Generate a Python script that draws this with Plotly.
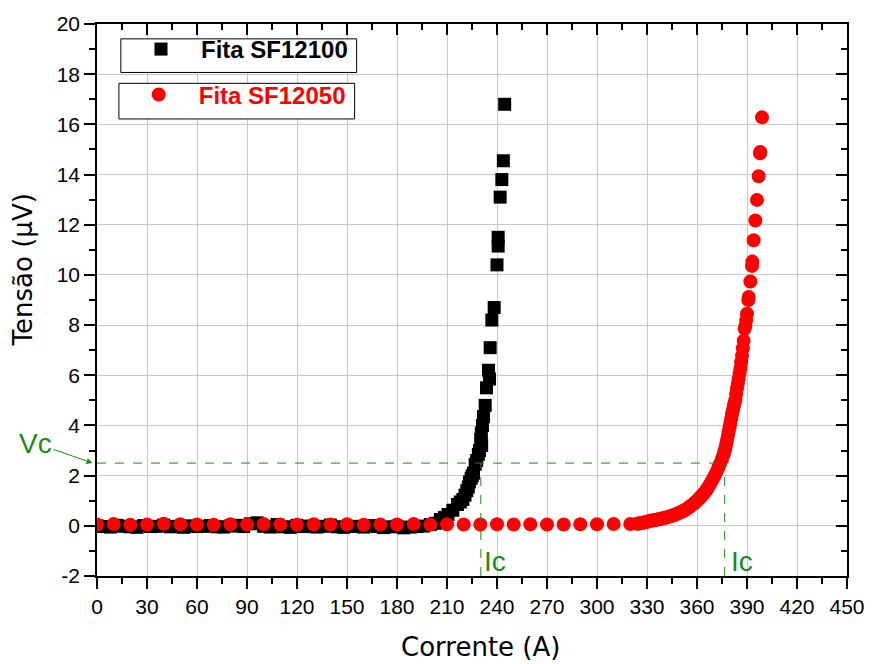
import plotly.graph_objects as go

# Fita SF12100 (black squares): current (A) and voltage (uV)
sf12100_i = [0, 4, 8, 12, 16, 20, 24, 28, 32, 36, 40, 44, 48, 52, 56, 60, 64, 68,
             72, 76, 80, 84, 88, 92, 96, 100, 104, 108, 112, 116, 120, 124, 128, 132,
             136, 140, 144, 148, 152, 156, 160, 164, 168, 172, 176, 180, 184, 188, 192,
             196, 200, 203,
             206.0, 208.5, 210.6, 213.5, 216.3, 218.0, 219.5, 220.8, 221.9, 222.8, 223.5,
             224.5, 225.2, 225.9, 226.9, 227.8, 228.8, 229.5, 230.8, 230.2, 230.6, 231.3,
             231.9, 232.9, 233.7, 235.5, 234.9, 235.9, 236.9, 238.3, 240.0, 240.7, 240.7,
             241.9, 242.9, 243.8, 244.6]
sf12100_v = [0.00, -0.03, -0.05, 0.02, -0.02, -0.04, -0.06, 0.01, -0.03, -0.02, 0.03,
             -0.04, -0.02, -0.06, 0.00, -0.03, -0.02, 0.01, -0.04, -0.05, -0.01, 0.02,
             -0.03, 0.08, 0.12, -0.02, -0.05, 0.05, -0.04, -0.06, 0.02, -0.03, -0.01,
             -0.05, -0.02, 0.03, -0.04, -0.06, -0.03, -0.02, -0.05, 0.01, -0.03,
             -0.07, -0.04, -0.02, -0.08, -0.05, -0.03, -0.01, 0.05, 0.10,
             0.25, 0.33, 0.45, 0.62, 0.85, 0.95, 1.05, 1.22, 1.40, 1.55, 1.75,
             1.90, 2.00, 2.10, 2.45, 2.60, 2.85, 3.00, 3.20, 3.45, 3.70, 4.00,
             4.35, 4.80, 5.50, 5.85, 6.20, 7.10, 8.20, 8.70, 10.40, 11.15, 11.50,
             13.10, 13.80, 14.55, 16.80]

# Fita SF12050 (red circles): current (A) and voltage (uV)
sf12050_i = [0, 10, 20, 30, 40, 50, 60, 70, 80, 90, 100, 110, 120, 130, 140, 150,
             160, 170, 180, 190, 200, 210, 220, 230, 240, 250, 260, 270, 280, 290,
             300, 310, 320,
             324, 325, 326, 327, 328, 329, 330, 331, 332, 333, 334, 335, 336, 337,
             338, 339, 340, 341, 342, 343, 344, 345, 346, 347, 348, 349, 350, 351,
             352, 353, 354, 355, 356, 357, 358, 359, 360, 361, 362, 363, 364, 365,
             366, 367, 368, 369, 370, 371, 372, 373, 374, 375, 375.5, 376, 376.5, 377,
             377.5, 378, 378.5, 379, 379.5, 380, 380.5, 381, 381.5, 382, 382.5, 383,
             383.5, 384, 384.5, 385, 385.5, 386, 386.5, 387, 387.5, 388, 388.6, 389,
             389.5, 390, 390.8, 391, 392, 393, 393.2, 394, 395, 396, 397, 397.8, 398, 399]
sf12050_v = [0.05, 0.07, 0.04, 0.05, 0.08, 0.06, 0.05, 0.04, 0.06, 0.05, 0.07, 0.05,
             0.04, 0.06, 0.05, 0.06, 0.04, 0.05, 0.05, 0.07, 0.05, 0.06, 0.05, 0.05,
             0.06, 0.05, 0.06, 0.05, 0.05, 0.06, 0.06, 0.07, 0.07,
             0.08, 0.09, 0.10, 0.11, 0.13, 0.14, 0.16, 0.18, 0.20, 0.21, 0.22, 0.23,
             0.25, 0.26, 0.27, 0.29, 0.31, 0.32, 0.34, 0.36, 0.38, 0.40, 0.43, 0.45,
             0.48, 0.51, 0.54, 0.57, 0.60, 0.64, 0.68, 0.73, 0.78, 0.83, 0.88, 0.94,
             1.00, 1.07, 1.14, 1.21, 1.29, 1.37, 1.46, 1.57, 1.68, 1.80, 1.92, 2.05,
             2.19, 2.34, 2.50, 2.66, 2.75, 2.84, 2.97, 3.10,
             3.26, 3.42, 3.58, 3.75, 3.92, 4.10, 4.27, 4.45, 4.60, 4.75, 4.88, 5.01,
             5.24, 5.47, 5.66, 5.86, 6.06, 6.26, 6.52, 6.78, 7.08, 7.38, 7.85, 7.97,
             8.20, 8.45, 9.00, 9.12, 9.74, 10.36, 10.53, 11.38, 12.17, 12.99, 13.93,
             14.85, 14.90, 16.28]

# Critical criteria
vc = 2.5
ic_sf12100 = 230.3
ic_sf12050 = 376.6

x_ticks = list(range(0, 451, 30))
y_ticks = list(range(-2, 21, 2))
y_tick_text = [str(v) for v in y_ticks]

tick_font = dict(family="Liberation Sans, Arial, sans-serif", size=21, color="black")
green = "#1a8a1a"

fig = go.Figure()

fig.add_trace(go.Scatter(
    x=sf12100_i, y=sf12100_v, mode="markers", name="Fita SF12100",
    marker=dict(symbol="square", size=13, color="black"),
    legend="legend",
))
fig.add_trace(go.Scatter(
    x=sf12050_i, y=sf12050_v, mode="markers", name="Fita SF12050",
    marker=dict(symbol="circle", size=14, color="#ff0000"),
    legend="legend2",
))

# Vc / Ic guide lines
dash_line = dict(color=green, width=1, dash="dash")
fig.add_shape(type="line", xref="x", yref="y", x0=0, x1=ic_sf12050, y0=vc, y1=vc, line=dash_line)
fig.add_shape(type="line", xref="x", yref="y", x0=ic_sf12100, x1=ic_sf12100, y0=-2, y1=vc, line=dash_line)
fig.add_shape(type="line", xref="x", yref="y", x0=ic_sf12050, x1=ic_sf12050, y0=-2, y1=vc, line=dash_line)

# Framed boxes behind each legend entry
box_line = dict(color="black", width=1)
fig.add_shape(type="rect", xref="paper", yref="paper", x0=0.0318, x1=0.3462,
              y0=0.9122, y1=0.9731, line=box_line, fillcolor="white", layer="above")
fig.add_shape(type="rect", xref="paper", yref="paper", x0=0.0292, x1=0.3435,
              y0=0.8280, y1=0.8925, line=box_line, fillcolor="white", layer="above")

label_font = dict(family="Liberation Sans, Arial, sans-serif", size=28, color=green)
fig.add_annotation(x=ic_sf12100, y=-1.42, xref="x", yref="y", text="Ic", showarrow=False,
                   xanchor="left", yanchor="middle", xshift=1, font=label_font)
fig.add_annotation(x=ic_sf12050, y=-1.42, xref="x", yref="y", text="Ic", showarrow=False,
                   xanchor="left", yanchor="middle", xshift=4, font=label_font)
fig.add_annotation(x=-0.006, y=vc, xref="paper", yref="y", text="Vc", showarrow=True,
                   ax=-57, ay=-20, arrowhead=2, arrowsize=1.2, arrowwidth=1,
                   arrowcolor=green, font=label_font)

# Axis titles
title_font = dict(family="DejaVu Sans, sans-serif", size=26, color="black")
fig.add_annotation(x=0.5, y=-0.128, xref="paper", yref="paper", text="Corrente (A)",
                   showarrow=False, xshift=8, yanchor="middle", font=title_font)
fig.add_annotation(x=-0.099, y=0.555, xref="paper", yref="paper", text="Tensão (μV)",
                   showarrow=False, textangle=-90, xanchor="center", yanchor="middle",
                   font=title_font)

axis_common = dict(showline=True, linecolor="black", linewidth=1.6, zeroline=False)

fig.update_layout(
    width=877, height=664,
    margin=dict(l=97, r=26, t=18, b=88),
    paper_bgcolor="white", plot_bgcolor="white",
    showlegend=True,
    xaxis=dict(
        range=[0, 450], tickvals=x_ticks, ticks="outside", ticklen=11, tickwidth=1.6,
        tickcolor="black", tickfont=tick_font, showgrid=True, gridcolor="#c8c8c8",
        gridwidth=1,
        minor=dict(dtick=15, tick0=0, ticks="outside", ticklen=6, tickwidth=1.6,
                   tickcolor="black", showgrid=False),
        **axis_common,
    ),
    yaxis=dict(
        range=[-2, 20], tickvals=y_ticks, ticktext=y_tick_text, ticks="outside",
        ticklen=11, tickwidth=1.6,
        tickcolor="black", tickfont=tick_font, showgrid=True, gridcolor="#c8c8c8",
        gridwidth=1,
        minor=dict(dtick=1, tick0=0, ticks="outside", ticklen=6, tickwidth=1.6,
                   tickcolor="black", showgrid=False),
        **axis_common,
    ),
    xaxis2=dict(
        range=[0, 450], tickvals=x_ticks, overlaying="x", side="top", anchor="y",
        ticks="inside", ticklen=11, tickwidth=1.6, tickcolor="black",
        showticklabels=False, showgrid=False,
        minor=dict(dtick=15, tick0=0, ticks="inside", ticklen=6, tickwidth=1.6,
                   tickcolor="black"),
        **axis_common,
    ),
    yaxis2=dict(
        range=[-2, 20], tickvals=y_ticks, overlaying="y", side="right", anchor="x",
        ticks="inside", ticklen=11, tickwidth=1.6, tickcolor="black",
        showticklabels=False, showgrid=False,
        minor=dict(dtick=1, tick0=0, ticks="inside", ticklen=6, tickwidth=1.6,
                   tickcolor="black"),
        **axis_common,
    ),
    legend=dict(
        x=0.032, y=0.9946, xanchor="left", yanchor="top",
        bgcolor="rgba(0,0,0,0)", borderwidth=0,
        font=dict(family="Liberation Sans, Arial, sans-serif", size=24, color="black",
                  weight="bold"),
        itemwidth=70, tracegroupgap=0,
    ),
    legend2=dict(
        x=0.029, y=0.9122, xanchor="left", yanchor="top",
        bgcolor="rgba(0,0,0,0)", borderwidth=0,
        font=dict(family="Liberation Sans, Arial, sans-serif", size=24, color="#ff0000",
                  weight="bold"),
        itemwidth=70, tracegroupgap=0,
    ),
)

# Invisible carrier so the mirrored top/right axes are rendered
fig.add_trace(go.Scatter(x=[None], y=[None], xaxis="x2", yaxis="y2",
                         showlegend=False, hoverinfo="skip"))

fig.write_html("out.html")
